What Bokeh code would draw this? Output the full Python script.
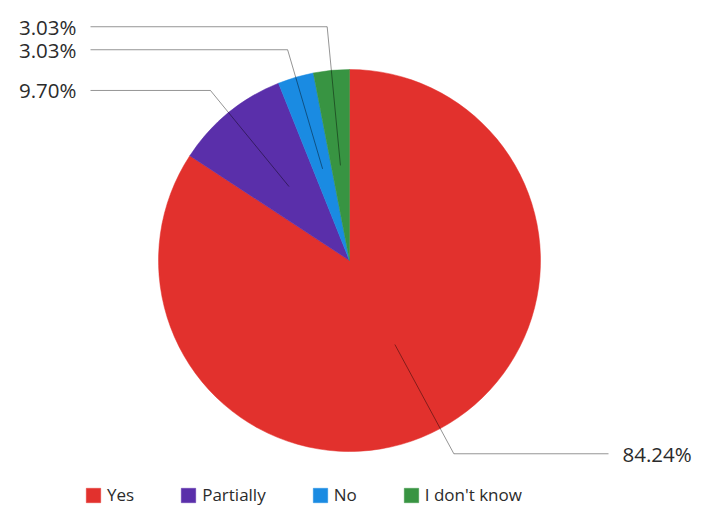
import math
from bokeh.plotting import figure
from bokeh.models import Range1d, ColumnDataSource, Legend, LegendItem
from bokeh.core.properties import value
from bokeh.embed import file_html
from bokeh.resources import INLINE

# ---- data ----
categories = ["Yes", "Partially", "No", "I don't know"]
percents = [84.24, 9.70, 3.03, 3.03]
labels = ["84.24%", "9.70%", "3.03%", "3.03%"]
colors = ["#E2312D", "#5A2FAA", "#1A8BE2", "#389442"]

# ---- layout (data x = screen x, data y = 512 - screen y) ----
W, H = 702, 510
cx, cy = 349, 512 - 260
R = 191

p = figure(width=W, height=H, output_backend="svg", toolbar_location=None,
           x_range=Range1d(0, W), y_range=Range1d(512 - H, 512),
           min_border=0, outline_line_color=None)
p.axis.visible = False
p.grid.visible = False
p.background_fill_color = "white"
p.border_fill_color = "white"

total = sum(percents)
starts, ends, mids = [], [], []
cum = 0.0
for v in percents:
    f0 = cum / total
    cum += v
    f1 = cum / total
    starts.append(math.pi / 2 - 2 * math.pi * f0)
    ends.append(math.pi / 2 - 2 * math.pi * f1)
    mids.append(math.pi / 2 - 2 * math.pi * (f0 + f1) / 2)

renderers = []
for i, cat in enumerate(categories):
    src = ColumnDataSource(dict(x=[cx], y=[cy], s=[starts[i]], e=[ends[i]]))
    r = p.wedge(x="x", y="y", radius=R, start_angle="s", end_angle="e",
                direction="clock", source=src, fill_color=colors[i],
                line_color=colors[i], line_width=0.5)
    renderers.append(r)

# ---- leader lines and labels ----
gap = 23
left, right = [], []
for i, a in enumerate(mids):
    sx = cx + 0.5 * R * math.cos(a)
    sy = cy + 0.5 * R * math.sin(a)
    bx = cx + 1.15 * R * math.cos(a)
    by = cy + 1.15 * R * math.sin(a)
    item = dict(i=i, a=a, sx=sx, sy=sy, bx=bx, by=by)
    (left if math.cos(a) < 0 else right).append(item)

# resolve overlaps on the left (push upward)
left.sort(key=lambda d: d["by"])
for k in range(1, len(left)):
    if left[k]["by"] < left[k - 1]["by"] + gap:
        left[k]["by"] = left[k - 1]["by"] + gap
for d in left + right:
    s = math.sin(d["a"])
    if abs(s) > 1e-6:
        t = (d["by"] - cy) / s
        d["bx"] = cx + t * math.cos(d["a"])

for side, items in (("left", left), ("right", right)):
    for d in items:
        ex = 90 if side == "left" else 608
        p.line([d["sx"], d["bx"], ex], [d["sy"], d["by"], d["by"]],
               line_color="black", line_alpha=0.42, line_width=1)
        tx = 76 if side == "left" else 622
        p.text(x=[tx], y=[d["by"]], text=[labels[d["i"]]],
               text_font=value("Open Sans"), text_font_size="20.5px",
               text_color="#2b2b2b",
               text_align="right" if side == "left" else "left",
               text_baseline="middle")

# ---- legend ----
legend = Legend(items=[LegendItem(label=c, renderers=[r]) for c, r in zip(categories, renderers)],
                orientation="horizontal", location=(84, 4),
                glyph_width=18, glyph_height=18, label_height=18,
                label_standoff=5, spacing=45, padding=0, margin=0,
                border_line_color=None, background_fill_alpha=0,
                label_text_font="Open Sans", label_text_font_size="17px",
                label_text_color="#2b2b2b")
p.add_layout(legend, "center")

open("out.html", "w").write(file_html(p, INLINE))
